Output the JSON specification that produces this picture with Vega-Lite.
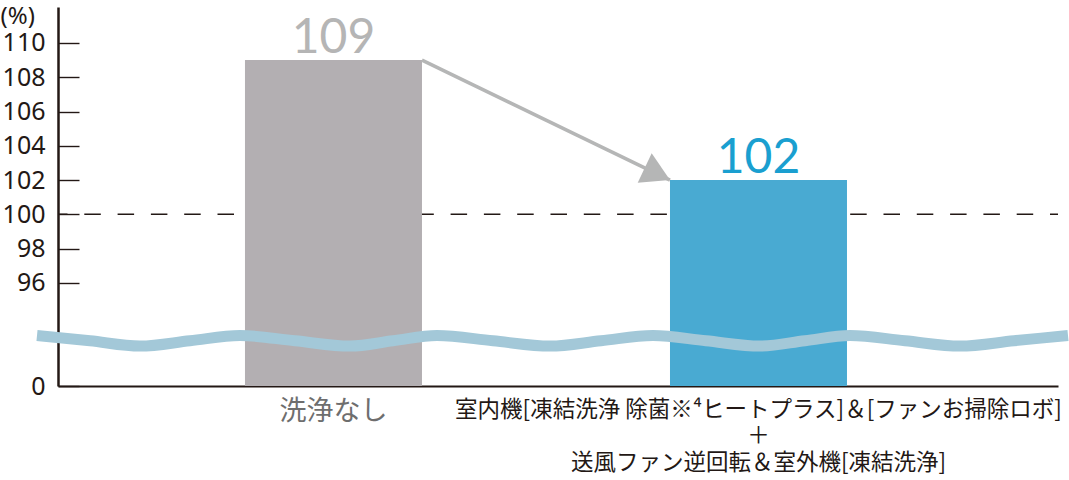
{
  "$schema": "https://vega.github.io/schema/vega-lite/v6.json",
  "description": "洗浄なし vs 室内機・室外機の凍結洗浄 (%)",
  "autosize": {"type": "none"},
  "padding": {"left": 58, "top": 7, "right": 11, "bottom": 94},
  "width": 1000,
  "height": 379,
  "background": "white",
  "config": {"view": {"stroke": null}},
  "datasets": {
    "bars": [
      {"label": "洗浄なし", "v": 109},
      {"label": "室内機[凍結洗浄 除菌※⁴ヒートプラス]＆[ファンお掃除ロボ]|＋|送風ファン逆回転＆室外機[凍結洗浄]", "v": 102}
    ],
    "ref": [{"v": 100}],
    "arrow": [
      {"from": "洗浄なし", "to": "室内機[凍結洗浄 除菌※⁴ヒートプラス]＆[ファンお掃除ロボ]|＋|送風ファン逆回転＆室外機[凍結洗浄]", "v": 109, "v2": 102}
    ],
    "wave": [
      {"t": -2.1, "v": 92.93},
      {"t": 3.2, "v": 92.62},
      {"t": 8.2, "v": 92.31},
      {"t": 13.2, "v": 92.62},
      {"t": 18.2, "v": 92.93},
      {"t": 23.7, "v": 92.62},
      {"t": 29.2, "v": 92.31},
      {"t": 33.5, "v": 92.62},
      {"t": 37.9, "v": 92.93},
      {"t": 43.5, "v": 92.62},
      {"t": 49.2, "v": 92.31},
      {"t": 54.3, "v": 92.62},
      {"t": 59.5, "v": 92.93},
      {"t": 64.8, "v": 92.62},
      {"t": 70.2, "v": 92.31},
      {"t": 74.7, "v": 92.62},
      {"t": 79.2, "v": 92.93},
      {"t": 84.7, "v": 92.62},
      {"t": 90.2, "v": 92.31},
      {"t": 95.6, "v": 92.62},
      {"t": 101.0, "v": 92.93}
    ]
  },
  "encoding": {
    "y": {
      "field": "v",
      "type": "quantitative",
      "scale": {"domain": [0, 92, 112.1], "range": [379, 344.4, 0], "nice": false, "zero": false},
      "axis": {
        "title": "(%)",
        "titleAngle": 0,
        "titleAlign": "left",
        "titleBaseline": "top",
        "titleX": -58,
        "titleY": -3,
        "titleFont": "Noto Sans",
        "titleFontSize": 24,
        "titleFontWeight": "normal",
        "titleColor": "#231815",
        "values": [0, 96, 98, 100, 102, 104, 106, 108, 110],
        "grid": false,
        "domainColor": "#231815",
        "domainWidth": 2.5,
        "tickColor": "#231815",
        "tickWidth": 1.4,
        "tickSize": -21,
        "labelPadding": 34,
        "labelFont": "Noto Sans",
        "labelFontSize": 25,
        "labelColor": "#231815",
        "labelBaseline": "middle"
      }
    }
  },
  "layer": [
    {
      "layer": [
        {
          "data": {"name": "ref"},
          "mark": {"type": "rule", "color": "#231815", "strokeWidth": 1.5, "strokeDash": [16.5, 16.8], "strokeDashOffset": 8.5},
          "encoding": {}
        },
        {
          "data": {"name": "bars"},
          "mark": {"type": "bar", "width": 177},
          "encoding": {
            "x": {
              "field": "label",
              "type": "nominal",
              "title": null,
              "scale": {
                "domain": ["洗浄なし", "室内機[凍結洗浄 除菌※⁴ヒートプラス]＆[ファンお掃除ロボ]|＋|送風ファン逆回転＆室外機[凍結洗浄]"],
                "paddingInner": 0.5835,
                "paddingOuter": 0.4682,
                "align": 0.4698
              },
              "axis": {
                "ticks": false,
                "domainColor": "#231815",
                "domainWidth": 2,
                "labelAngle": 0,
                "labelPadding": 12,
                "labelLimit": 900,
                "labelFont": "Noto Sans CJK JP",
                "labelBaseline": "top",
                "labelLineHeight": 26.5,
                "labelExpr": "split(datum.label, '|')",
                "labelFontSize": {"condition": {"test": "datum.value == '洗浄なし'", "value": 27}, "value": 22.5},
                "labelColor": {"condition": {"test": "datum.value == '洗浄なし'", "value": "#6e6e6e"}, "value": "#231815"}
              }
            },
            "color": {"condition": {"test": "datum.v < 105", "value": "#49aad2"}, "value": "#b3afb2"}
          }
        },
        {
          "data": {"name": "arrow"},
          "mark": {"type": "rule", "color": "#b5b6b6", "strokeWidth": 3.5},
          "encoding": {
            "x": {"field": "from", "type": "nominal", "bandPosition": 1, "title": null},
            "x2": {"field": "to", "bandPosition": 0},
            "y2": {"field": "v2"}
          }
        },
        {
          "data": {"name": "arrow"},
          "mark": {
            "type": "point",
            "shape": "M0,0L-1,-0.58L-1,0.58Z",
            "filled": true,
            "color": "#b5b6b6",
            "opacity": 1,
            "size": 3136,
            "angle": 25.5
          },
          "encoding": {
            "x": {"field": "to", "type": "nominal", "bandPosition": 0, "title": null},
            "y": {"field": "v2", "type": "quantitative"}
          }
        },
        {
          "data": {"name": "bars"},
          "mark": {"type": "text", "font": "Lato", "fontWeight": 400, "fontSize": 48, "baseline": "alphabetic", "dy": -7},
          "encoding": {
            "x": {"field": "label", "type": "nominal", "title": null},
            "text": {"field": "v", "type": "quantitative"},
            "color": {"condition": {"test": "datum.v < 105", "value": "#1a9fd0"}, "value": "#b5b5b5"}
          }
        }
      ]
    },
    {
      "data": {"name": "wave"},
      "mark": {"type": "line", "interpolate": "monotone", "color": "#a3c8d8", "strokeWidth": 11, "strokeCap": "butt", "clip": false},
      "encoding": {
        "x": {"field": "t", "type": "quantitative", "scale": {"domain": [0, 100], "nice": false, "zero": false}, "axis": null}
      }
    }
  ],
  "resolve": {"scale": {"x": "independent"}}
}
